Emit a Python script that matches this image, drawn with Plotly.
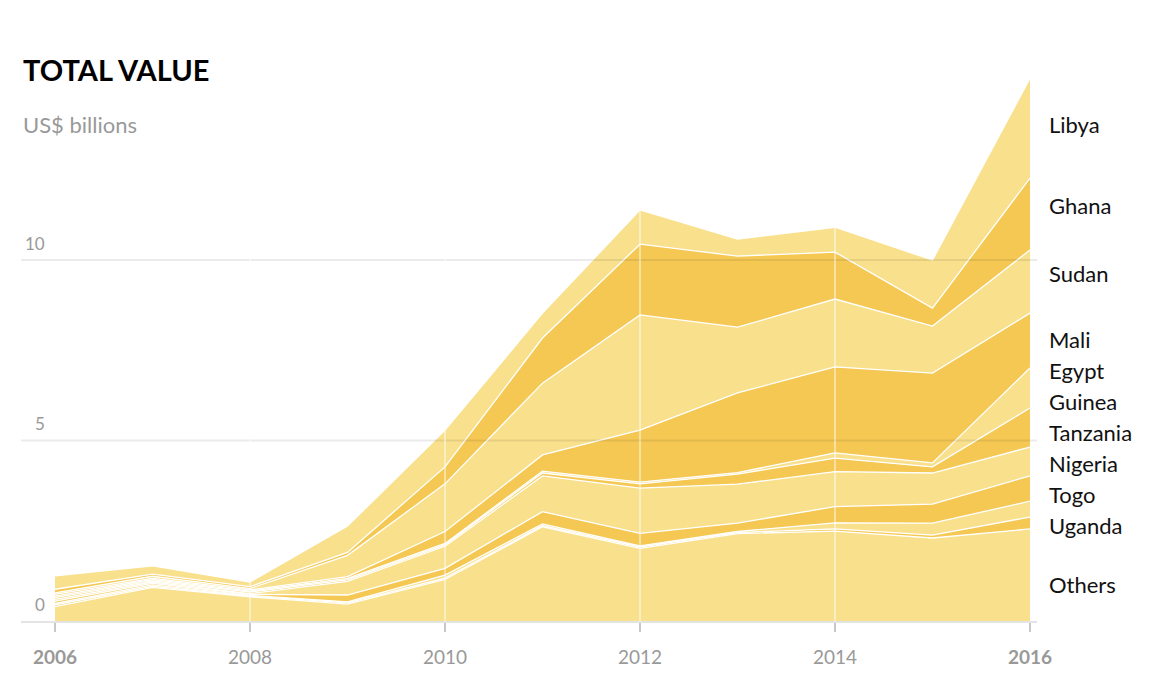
import plotly.graph_objects as go

# ---------------- data (US$ billions) ----------------
years = [2006, 2007, 2008, 2009, 2010, 2011, 2012, 2013, 2014, 2015, 2016]
countries = ["Others", "Uganda", "Togo", "Nigeria", "Tanzania", "Guinea",
             "Egypt", "Mali", "Sudan", "Ghana", "Libya"]

others   = [0.40, 0.93, 0.67, 0.47, 1.15, 2.61, 2.01, 2.42, 2.49, 2.30, 2.55]
uganda   = [0.05, 0.03, 0.02, 0.03, 0.04, 0.03, 0.04, 0.03, 0.06, 0.08, 0.33]
togo     = [0.04, 0.04, 0.02, 0.03, 0.08, 0.05, 0.03, 0.03, 0.17, 0.33, 0.44]
nigeria  = [0.06, 0.04, 0.03, 0.19, 0.19, 0.34, 0.35, 0.23, 0.45, 0.53, 0.70]
tanzania = [0.05, 0.04, 0.02, 0.38, 0.61, 0.99, 1.25, 1.08, 0.97, 0.86, 0.80]
guinea   = [0.05, 0.03, 0.04, 0.04, 0.04, 0.08, 0.12, 0.28, 0.37, 0.17, 1.08]
egypt    = [0.04, 0.04, 0.03, 0.04, 0.04, 0.05, 0.05, 0.04, 0.15, 0.11, 1.11]
mali     = [0.05, 0.03, 0.03, 0.05, 0.33, 0.45, 1.44, 2.21, 2.38, 2.49, 1.52]
sudan    = [0.04, 0.06, 0.04, 0.59, 1.32, 1.99, 3.19, 1.82, 1.88, 1.30, 1.75]
ghana    = [0.10, 0.06, 0.05, 0.08, 0.47, 1.25, 1.96, 1.97, 1.30, 0.50, 1.99]
libya    = [0.37, 0.23, 0.13, 0.73, 1.02, 0.69, 0.95, 0.47, 0.69, 1.33, 2.77]

series = [others, uganda, togo, nigeria, tanzania, guinea, egypt, mali, sudan, ghana, libya]

x_tickvals = [2006, 2008, 2010, 2012, 2014, 2016]
x_ticktext = ["<b>2006</b>", "2008", "2010", "2012", "2014", "<b>2016</b>"]
y_tickvals = [0, 5, 10]
y_ticktext = ["0", "5", "10"]

# ---------------- style ----------------
LIGHT = "#f9e08c"
DARK = "#f5c854"
GREY = "#999999"
FONT = "Lato, 'Source Sans Pro', sans-serif"

W, H = 1152, 694
M_L, M_R, M_T, M_B = 21, 115, 76, 73
X_RANGE = [2005.651, 2016.072]
Y_RANGE = [0, 15.1]
plot_w = W - M_L - M_R
plot_h = H - M_T - M_B

fig = go.Figure()
for i, (name, vals) in enumerate(zip(countries, series)):
    fig.add_trace(go.Scatter(
        x=years, y=vals, name=name, mode="lines", stackgroup="one",
        line=dict(color="white", width=1.3, shape="linear"),
        fillcolor=LIGHT if i % 2 == 0 else DARK,
        hovertemplate=name + " %{x}: %{y:.2f}<extra></extra>",
    ))

shapes = []
# horizontal gridlines drawn over the areas
for v in y_tickvals[1:]:
    shapes.append(dict(type="line", xref="paper", x0=0, x1=1, yref="y", y0=v, y1=v,
                       line=dict(color="rgba(0,0,0,0.08)", width=2), layer="above"))
# faint white vertical guides at the inner ticks
for v in x_tickvals[1:-1]:
    shapes.append(dict(type="line", xref="x", x0=v, x1=v, yref="paper", y0=0, y1=1,
                       line=dict(color="rgba(255,255,255,0.45)", width=2), layer="above"))

annotations = []

# y-axis labels, sitting just above their gridlines inside the plot
for v, t in zip(y_tickvals, y_ticktext):
    annotations.append(dict(x=(47 - M_L) / plot_w, xref="paper", y=v, yref="y",
                            xanchor="right", yanchor="middle", yshift=17,
                            text=t, showarrow=False,
                            font=dict(family=FONT, size=17, color=GREY)))

# ---------------- end labels with simple collision avoidance ----------------
px_per_unit = plot_h / (Y_RANGE[1] - Y_RANGE[0])
last = [s[-1] for s in series]
cum = 0
mids_px = []
for v in last:
    mids_px.append((cum + v / 2) * px_per_unit)
    cum += v
SPACING = 31
placed = []
for i, m in enumerate(mids_px):
    if i >= 2:
        m = max(m, placed[-1] + SPACING)
    placed.append(m)
label_nudge = {"Others": -10, "Sudan": 8, "Ghana": 9, "Libya": 4}

for name, p in zip(countries, placed):
    annotations.append(dict(
        x=2016, xref="x", y=p / px_per_unit, yref="y", xanchor="left", yanchor="middle",
        xshift=17, yshift=label_nudge.get(name, -2), text=name, showarrow=False,
        font=dict(family=FONT, size=22, color="#111111")))

annotations.append(dict(text="<b>TOTAL VALUE</b>", xref="paper", yref="paper",
                        x=0, y=1 + (M_T - 70) / plot_h, xanchor="left", yanchor="middle",
                        showarrow=False,
                        font=dict(family=FONT, size=29, color="#000000", weight=900)))
annotations.append(dict(text="US$ billions", xref="paper", yref="paper",
                        x=0, y=1 - (124 - M_T) / plot_h, xanchor="left", yanchor="middle",
                        showarrow=False, font=dict(family=FONT, size=22, color=GREY)))

fig.update_layout(
    width=W, height=H, autosize=False,
    margin=dict(l=M_L, r=M_R, t=M_T, b=M_B, pad=0),
    paper_bgcolor="white", plot_bgcolor="white",
    showlegend=False,
    font=dict(family=FONT, color=GREY),
    shapes=shapes, annotations=annotations,
    xaxis=dict(range=X_RANGE, tickvals=x_tickvals, ticktext=x_ticktext,
               showgrid=False, zeroline=False,
               showline=True, linecolor="#e4e4e4", linewidth=2,
               ticks="outside", ticklen=9, tickwidth=1.5, tickcolor="#c8c8c8",
               tickfont=dict(family=FONT, size=19, color=GREY),
               ticklabelstandoff=9, fixedrange=True),
    yaxis=dict(range=Y_RANGE, showticklabels=False,
               showgrid=False, zeroline=False, showline=False, ticks="",
               fixedrange=True),
)

fig.write_html("out.html")
